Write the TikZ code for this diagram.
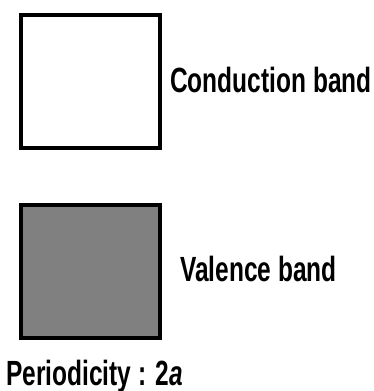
\documentclass[tikz,border=0pt]{standalone}
\usepackage{fontspec}
\newfontfamily\narrowfont[FakeStretch=0.70]{Liberation Sans}
\begin{document}
\begin{tikzpicture}[x=1pt,y=-1pt,
  bandbox/.style={draw=black,line width=4pt,minimum width=139pt,minimum height=133pt,inner sep=0pt,anchor=north west},
  label/.style={anchor=base west,inner sep=0pt,font=\narrowfont\bfseries\fontsize{35}{35}\selectfont}]
\useasboundingbox (0,0) rectangle (374,391);
\node[bandbox,fill=white] (cb) at (18.5,12.5) {};
\node[bandbox,fill=black!50] (vb) at (18.5,202.5) {};
\node[label] (cbl) at (170,92) {Conduction band};
\node[label] (vbl) at (180,281) {Valence band};
\node[label] (per) at (6,385) {Periodicity : 2\textit{a}};
\end{tikzpicture}
\end{document}
